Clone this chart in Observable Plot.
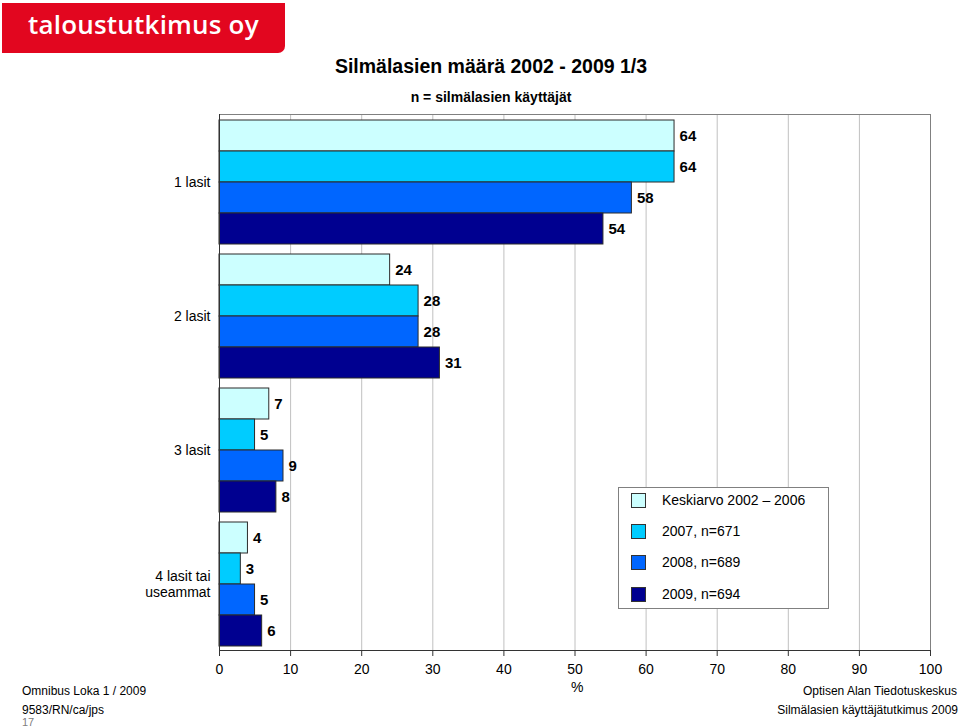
<!DOCTYPE html>
<html>
<head>
<meta charset="utf-8">
<script src="https://cdn.jsdelivr.net/npm/d3@7"></script>
<script src="https://cdn.jsdelivr.net/npm/@observablehq/plot@0.6"></script>
<style>
  html, body { margin: 0; padding: 0; background: #fff; }
  #page { position: relative; width: 960px; height: 728px; overflow: hidden; background: #fff;
          font-family: "Liberation Sans", Arial, sans-serif; color: #000; }
  .abs { position: absolute; white-space: nowrap; line-height: 1; }
  #logo { position: absolute; left: 2px; top: 3px; width: 283px; height: 50px; background: #E2061F;
          border-bottom-right-radius: 7px; }
  #logo span { position: absolute; left: 26px; top: 6px; color: #fff; font-family: "Open Sans", sans-serif;
               font-weight: 600; font-size: 26px; line-height: 1.2; letter-spacing: 0.2px; }
  #chart { position: absolute; left: 0; top: 100px; }
  #legend { position: absolute; left: 618px; top: 487px; width: 209px; height: 120px; background: #fff;
            border: 1px solid #808080; }
  .lrow { position: absolute; left: 12px; height: 16px; }
  .sw { position: absolute; left: 0; top: 0; width: 15px; height: 15px; border: 1px solid #333; box-sizing: border-box; }
  .lt { position: absolute; left: 31px; top: 0px; font-size: 14px; line-height: 1; white-space: nowrap; }
</style>
</head>
<body>
<div id="page">
  <div id="logo"><span>taloustutkimus oy</span></div>
  <div class="abs" id="title" style="left:0;width:982px;text-align:center;top:57px;font-size:19.5px;font-weight:bold;">Silmälasien määrä 2002 - 2009 1/3</div>
  <div class="abs" id="subtitle" style="left:0;width:982px;text-align:center;top:90px;font-size:14px;font-weight:bold;">n = silmälasien käyttäjät</div>
  <div id="chart"></div>
  <div id="legend"></div>
  <div class="abs" style="left:571px;top:680px;font-size:14px;">%</div>
  <div class="abs" style="left:22px;top:685px;font-size:12px;">Omnibus Loka 1 / 2009</div>
  <div class="abs" style="left:22px;top:704px;font-size:12px;">9583/RN/ca/jps</div>
  <div class="abs" style="left:22px;top:717px;font-size:11px;color:#808080;">17</div>
  <div class="abs" style="right:3px;top:685px;font-size:12px;text-align:right;">Optisen Alan Tiedotuskeskus</div>
  <div class="abs" style="right:2px;top:704px;font-size:12px;text-align:right;">Silmälasien käyttäjätutkimus 2009</div>
</div>
<script>
// ---- data ----
const categories = ["1 lasit", "2 lasit", "3 lasit", "4 lasit tai useammat"];
const seriesNames = ["Keskiarvo 2002 – 2006", "2007, n=671", "2008, n=689", "2009, n=694"];
const avg2002_2006 = [64, 24, 7, 4];
const y2007 = [64, 28, 5, 3];
const y2008 = [58, 28, 9, 5];
const y2009 = [54, 31, 8, 6];
const seriesColors = ["#CCFFFF", "#00CCFF", "#0066FF", "#000090"];
const xTicks = [0, 10, 20, 30, 40, 50, 60, 70, 80, 90, 100];

const seriesValues = [avg2002_2006, y2007, y2008, y2009];
const rows = [];
categories.forEach((c, i) => {
  seriesNames.forEach((s, j) => rows.push({category: c, series: s, value: seriesValues[j][i]}));
});

const catLabel = c => c === "4 lasit tai useammat" ? "4 lasit tai\nuseammat" : c;

const chart = Plot.plot({
  width: 960,
  height: 600,
  marginTop: 12,
  marginBottom: 49,
  marginLeft: 219,
  marginRight: 30,
  style: {fontFamily: "'Liberation Sans', Arial, sans-serif", fontSize: "14px", color: "#000", background: "transparent"},
  x: {domain: [0, 100], axis: null},
  y: {domain: seriesNames, padding: 0, insetTop: 5, insetBottom: 4, axis: null},
  fy: {domain: categories, padding: 0, axis: null},
  color: {domain: seriesNames, range: seriesColors},
  marks: [
    Plot.gridX(xTicks, {stroke: "#c0c0c0", strokeOpacity: 1}),
    Plot.barX(rows, {x: "value", y: "series", fy: "category", fill: "series", stroke: "#2b2b2b", strokeWidth: 1}),
    Plot.text(rows, {x: "value", y: "series", fy: "category", text: d => String(d.value), dx: 5,
                     textAnchor: "start", fontWeight: "bold", fontSize: 15}),
    Plot.frame({facet: "super", stroke: "#808080"}),
    Plot.ruleX([0], {stroke: "#333"}),
    Plot.frame({facet: "super", anchor: "bottom", stroke: "#333"}),
    Plot.axisX({ticks: xTicks, tickSize: 6, tickPadding: 8, label: null, fontSize: 14, stroke: "#333"}),
    Plot.axisFy({anchor: "left", tickSize: 0, tickPadding: 9, label: null, fontSize: 14, lineHeight: 1.15, tickFormat: catLabel})
  ]
});
document.getElementById("chart").appendChild(chart);

// ---- legend ----
const legend = document.getElementById("legend");
const legendTops = [5, 36, 67, 99];
seriesNames.forEach((s, j) => {
  const row = document.createElement("div");
  row.className = "lrow";
  row.style.top = legendTops[j] + "px";
  const sw = document.createElement("div");
  sw.className = "sw";
  sw.style.background = seriesColors[j];
  const t = document.createElement("div");
  t.className = "lt";
  t.textContent = s;
  row.appendChild(sw);
  row.appendChild(t);
  legend.appendChild(row);
});
</script>
</body>
</html>
